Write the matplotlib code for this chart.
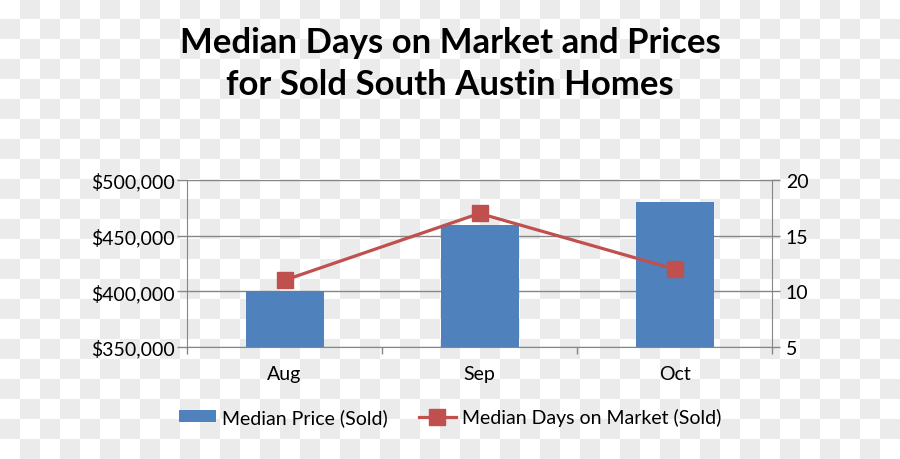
import matplotlib
matplotlib.use('Agg')
import matplotlib.pyplot as plt
import numpy as np

# data
months = ['Aug', 'Sep', 'Oct']
median_price = [400000, 460000, 480000]
median_days = [11, 17, 12]

plt.rcParams['font.family'] = ['Lato', 'DejaVu Sans']

fig = plt.figure(figsize=(9, 4.6), dpi=100)

# checkerboard backdrop (the reference is a transparent png preview)
yy, xx = np.mgrid[0:460, 0:900]
checker = ((xx // 20 + yy // 20) % 2)[..., None]
bg = np.where(checker == 1, np.array([0.925, 0.925, 0.925]), np.array([1.0, 1.0, 1.0]))
bg_ax = fig.add_axes([0, 0, 1, 1], zorder=-1)
bg_ax.imshow(bg, aspect='auto', interpolation='nearest')
bg_ax.axis('off')

ax = fig.add_axes([187 / 900, 1 - 348 / 460, 585 / 900, 167 / 460])
ax.set_facecolor('none')
x = np.arange(len(months))
grey = '#868686'

ax.bar(x, median_price, width=0.4, color='#4F81BD', zorder=2, label='Median Price (Sold)')
ax.set_ylim(350000, 500000)
ax.set_xlim(-0.5, 2.5)
ax.set_yticks([350000, 400000, 450000, 500000])
ax.set_yticklabels([f'${v:,}' for v in [350000, 400000, 450000, 500000]])
ax.yaxis.grid(True, color=grey, linewidth=1)
ax.set_axisbelow(True)
ax.set_xticks(x)
ax.set_xticklabels(months)
ax.set_xticks([-0.5, 0.5, 1.5, 2.5], minor=True)
ax.tick_params(axis='x', which='major', length=0, pad=13, labelsize=14)
ax.tick_params(axis='x', which='minor', length=5, color=grey, width=1)
ax.tick_params(axis='y', length=7, color=grey, width=1, labelsize=14, pad=2)
for s in ['left', 'right', 'bottom']:
    ax.spines[s].set_color(grey)
ax.spines['top'].set_visible(False)

ax2 = ax.twinx()
ax2.plot(x, median_days, color='#C0504D', linewidth=2.3, marker='s', markersize=11,
         zorder=3, label='Median Days on Market (Sold)')
ax2.set_ylim(5, 20)
ax2.set_yticks([5, 10, 15, 20])
ax2.tick_params(axis='y', length=6, color=grey, width=1, labelsize=14, pad=4)
for s in ['left', 'right', 'bottom', 'top']:
    ax2.spines[s].set_visible(False)

fig.text(0.5, 1 - 64 / 460, 'Median Days on Market and Prices\nfor Sold South Austin Homes',
         ha='center', va='center', fontsize=25, fontweight='bold', linespacing=1.36)

h1, l1 = ax.get_legend_handles_labels()
h2, l2 = ax2.get_legend_handles_labels()
fig.legend(h1 + h2, l1 + l2, loc='center', bbox_to_anchor=(0.5, 1 - 418 / 460), ncol=2,
           frameon=False, fontsize=14, handlelength=1.9, handleheight=0.6,
           columnspacing=1.6, handletextpad=0.3)

fig.savefig('out.png', dpi=100)
